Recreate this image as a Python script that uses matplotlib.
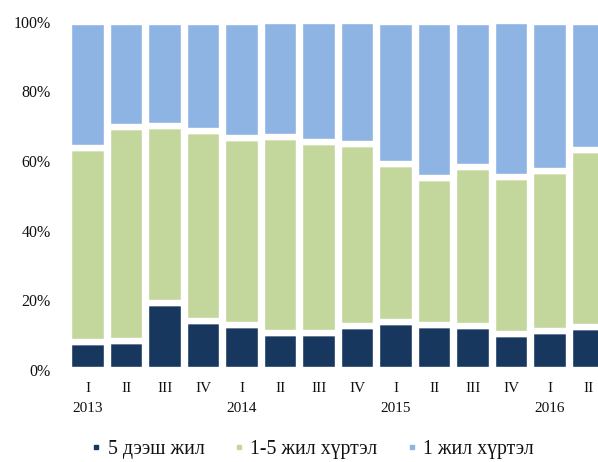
import matplotlib.pyplot as plt
from matplotlib.lines import Line2D
from matplotlib.transforms import blended_transform_factory
import numpy as np

plt.rcParams['font.family'] = ['Liberation Serif', 'DejaVu Serif']

# Datos (porcentajes)
quarters = ['I', 'II', 'III', 'IV', 'I', 'II', 'III', 'IV', 'I', 'II', 'III', 'IV', 'I', 'II']
years = ['2013', '2014', '2015', '2016']
year_pos = [0, 4, 8, 12]

over_5 = [7.9, 8.3, 19.2, 14.1, 13.0, 10.5, 10.7, 12.5, 13.8, 12.8, 12.5, 10.2, 11.1, 12.3]
one_to_5 = [55.9, 61.4, 50.8, 54.4, 53.6, 56.4, 54.7, 52.4, 45.3, 42.3, 45.7, 45.2, 45.9, 50.7]
under_1 = [36.2, 30.3, 30.0, 31.5, 33.4, 33.1, 34.6, 35.1, 40.9, 44.9, 41.8, 44.6, 43.0, 37.0]

labels = ['5 дээш жил', '1-5 жил хүртэл', '1 жил хүртэл']
colors = ['#17375E', '#C3D69B', '#8EB4E3']

fig = plt.figure(figsize=(5.98, 4.62), dpi=100)
ax = fig.add_axes([68.75 / 598, 92 / 462, 539 / 598, 348.5 / 462])

x = np.arange(len(quarters))
bottom = np.zeros(len(x))
for serie, color in zip([over_5, one_to_5, under_1], colors):
    ax.bar(x, serie, bottom=bottom, width=0.97, color=color, edgecolor='white', linewidth=4.6)
    bottom += np.array(serie)

ax.set_xlim(-0.5, 13.5)
ax.set_ylim(0, 100)
ax.set_yticks([0, 20, 40, 60, 80, 100])
ax.set_yticklabels([f'{v}%' for v in [0, 20, 40, 60, 80, 100]], fontsize=11.5)
ax.set_xticks(x)
ax.set_xticklabels(quarters, fontsize=11)
ax.tick_params(axis='both', length=0, colors='#111111')
ax.tick_params(axis='y', pad=13)
ax.tick_params(axis='x', pad=9)
for s in ax.spines.values():
    s.set_visible(False)

trans = blended_transform_factory(ax.transData, ax.transAxes)
for yr, p in zip(years, year_pos):
    ax.annotate(yr, xy=(p, 0), xycoords=trans, xytext=(0, -28), textcoords='offset points',
                ha='center', va='center', fontsize=11, color='#111111')

handles = [Line2D([0], [0], marker='s', linestyle='none', markersize=3.2, color=c) for c in colors]
fig.legend(handles, labels, loc='center', bbox_to_anchor=(0.522, 0.027), ncol=3, frameon=False,
           fontsize=14.2, handletextpad=0.3, columnspacing=1.42, handlelength=0.6,
           labelcolor='#111111')

fig.savefig('out.png', dpi=100)
